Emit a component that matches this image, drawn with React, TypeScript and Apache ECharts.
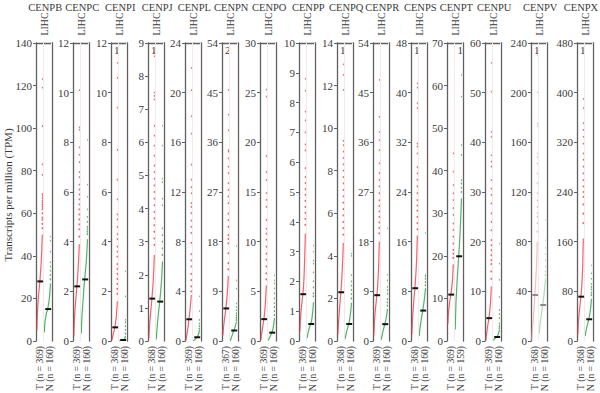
import React, { useEffect, useRef } from "react";
import * as echarts from "echarts";

const genes = ["CENPB", "CENPC", "CENPI", "CENPJ", "CENPL", "CENPN", "CENPO", "CENPP", "CENPQ", "CENPR", "CENPS", "CENPT", "CENPU", "CENPV", "CENPX"];
const yMax = [140, 12, 12, 9, 24, 54, 30, 10, 14, 54, 48, 70, 60, 240, 480];
const yStep = [20, 2, 2, 1, 4, 9, 5, 1, 2, 9, 8, 10, 10, 40, 80];
const nT = [369, 369, 368, 368, 369, 367, 369, 369, 368, 369, 368, 369, 369, 368, 368];
const nN = [160, 160, 160, 160, 160, 160, 160, 160, 160, 160, 160, 159, 160, 160, 160];
const aboveT = [0, 0, 1, 1, 0, 2, 0, 0, 1, 0, 1, 0, 0, 1, 1];
const aboveN = [0, 0, 0, 0, 0, 0, 0, 0, 0, 0, 0, 1, 0, 0, 0];
const faded = [false, false, false, false, false, false, false, false, false, false, false, false, false, true, false];

const medT = [28, 2.2, 0.55, 1.28, 1.75, 5.9, 2.2, 1.57, 2.29, 8.3, 8.5, 10.9, 4.6, 37, 71.4];
const medN = [15, 2.48, 0.04, 1.19, 0.3, 1.9, 0.84, 0.57, 0.8, 3.05, 4.9, 19.9, 0.8, 29, 35];

// dense part of sorted tumour values (ranks 0%..90%)
const bodyT = [
  [5, 13, 18, 22, 25, 28, 32, 36, 42, 50],
  [0.2, 0.9, 1.3, 1.6, 1.9, 2.2, 2.5, 2.9, 3.3, 3.9],
  [0.04, 0.15, 0.25, 0.35, 0.45, 0.55, 0.7, 0.9, 1.2, 1.6],
  [0.08, 0.4, 0.65, 0.85, 1.05, 1.28, 1.5, 1.75, 2.1, 2.6],
  [0.02, 0.3, 0.6, 0.9, 1.3, 1.75, 2.1, 2.6, 3.1, 3.7],
  [1.0, 2.3, 3.3, 4.2, 5.0, 5.9, 7.0, 8.2, 9.7, 11.8],
  [0.1, 0.6, 1.0, 1.4, 1.8, 2.2, 2.7, 3.4, 4.3, 5.6],
  [0.3, 0.7, 1.0, 1.2, 1.4, 1.57, 1.8, 2.2, 2.8, 3.6],
  [0.3, 0.8, 1.2, 1.6, 1.95, 2.3, 2.7, 3.2, 3.8, 4.6],
  [1.0, 3.5, 5.0, 6.2, 7.2, 8.3, 9.6, 11.4, 14.0, 18.0],
  [1.0, 3.3, 4.8, 6.2, 7.4, 8.5, 9.8, 11.4, 13.5, 17.0],
  [4.0, 6.5, 8.0, 9.2, 10.1, 11.0, 12.0, 13.3, 15.0, 18.0],
  [0.1, 1.2, 2.2, 3.0, 3.8, 4.6, 5.5, 6.7, 8.3, 11.0],
  [1, 10, 16, 22, 29, 37, 45, 54, 64, 80],
  [10, 32, 43, 52, 62, 71, 82, 97, 120, 165],
];
// sparse upper tumour values (ranks 90%..100%)
const topT = [
  [53, 55, 57, 58, 60, 62, 63, 64, 65, 66, 67, 68, 69, 78, 83, 101, 119, 123],
  [4.2, 4.5, 4.7, 4.9, 5.1, 5.3, 5.5, 5.7, 5.9, 6.1, 6.3, 6.6, 6.8, 7.2, 7.5, 7.8, 8.5, 8.6, 10.1],
  [1.9, 2.1, 2.3, 2.5, 2.7, 2.9, 3.1, 3.4, 3.6, 3.8, 4.1, 4.3, 4.6, 4.9, 5.1, 5.7, 6.5, 7.7, 9.4, 10.6, 11.2],
  [2.9, 3.1, 3.3, 3.5, 3.7, 3.9, 4.1, 4.3, 4.5, 4.7, 4.9, 5.1, 5.3, 5.6, 5.9, 6.2, 6.5, 7.3, 7.4, 7.5, 8.6, 8.7],
  [4.0, 4.4, 4.9, 5.4, 6.0, 6.5, 7.0, 7.9, 8.7, 9.2, 9.7, 10.3, 10.8, 11.1, 11.9, 12.4, 13.0, 14.2, 16.7, 18.1, 20.2, 22.0],
  [13.0, 14.1, 15.9, 17.7, 18.5, 19.2, 20.7, 21.9, 23.1, 25.0, 26.2, 27.4, 28.6, 30.4, 31.6, 33.1, 34.3, 34.6, 38.2, 41.0, 45.5],
  [6.2, 6.8, 7.5, 8.2, 8.8, 9.5, 10.2, 10.8, 11.3, 12.2, 13.5, 14.2, 14.9, 16.2, 17.0, 18.6, 24.6, 25.3],
  [3.9, 4.1, 4.3, 4.5, 4.7, 4.9, 5.1, 5.3, 5.5, 5.8, 6.4, 6.6, 7.0, 7.4, 7.7, 8.4, 8.8],
  [5.0, 5.3, 5.6, 5.9, 6.2, 6.5, 6.8, 7.1, 7.4, 7.7, 8.0, 8.3, 8.6, 8.9, 9.2, 9.4, 11.8, 12.5, 13.0],
  [19.5, 20.5, 21.5, 22.5, 23.5, 24.5, 25.5, 26.8, 28.0, 29.2, 30.4, 32.2, 34.6, 36.4, 37.9, 40.6, 47.3],
  [18.0, 19.0, 20.0, 21.0, 21.8, 22.7, 23.8, 24.9, 26.0, 27.0, 28.0, 30.2, 31.3, 31.8, 37.5, 38.3, 40.8, 41.5],
  [19.5, 20.5, 21.4, 22.9, 24.5, 26.1, 27.6, 29.6, 31.2, 33.1, 34.7, 36.6, 39.8, 44.1],
  [12.5, 14.0, 15.5, 16.3, 17.3, 18.3, 19.3, 20.3, 22.3, 24.0, 25.7, 27.7, 29.4, 30.7, 32.4, 35.1, 36.1, 37.4, 41.1, 42.1, 50.2, 56.0],
  [88, 95, 100, 103, 108, 113, 119, 127, 135, 143, 148, 151, 173, 175, 200, 230],
  [190, 205, 220, 232, 240, 249, 259, 270, 281, 292, 302, 318, 329, 340, 351, 375, 390],
];
const bodyN = [
  [4, 9, 11, 13, 14, 15, 17, 19, 22, 27],
  [0.3, 1.0, 1.4, 1.8, 2.2, 2.5, 2.8, 3.1, 3.5, 4.1],
  [0, 0.01, 0.02, 0.03, 0.03, 0.04, 0.05, 0.07, 0.1, 0.2],
  [0.05, 0.35, 0.6, 0.8, 1.0, 1.2, 1.4, 1.65, 1.95, 2.4],
  [0.0, 0.05, 0.1, 0.15, 0.2, 0.3, 0.35, 0.45, 0.6, 0.9],
  [0.0, 0.4, 0.8, 1.1, 1.5, 1.9, 2.2, 2.6, 3.0, 3.5],
  [0.05, 0.2, 0.35, 0.5, 0.65, 0.84, 1.0, 1.3, 1.7, 2.3],
  [0.1, 0.25, 0.35, 0.45, 0.5, 0.57, 0.65, 0.8, 1.0, 1.3],
  [0.1, 0.3, 0.45, 0.55, 0.7, 0.8, 0.95, 1.15, 1.4, 1.8],
  [0.2, 0.9, 1.5, 2.0, 2.5, 3.0, 3.5, 4.1, 4.8, 5.8],
  [0.8, 2.0, 2.8, 3.5, 4.2, 4.9, 5.6, 6.4, 7.3, 8.5],
  [2.7, 9.0, 12.0, 15.0, 17.5, 20.0, 22.5, 25.5, 29.0, 33.5],
  [0.1, 0.3, 0.45, 0.6, 0.7, 0.8, 1.0, 1.3, 1.7, 2.3],
  [6, 13, 17, 21, 25, 29, 33, 38, 43, 50],
  [8, 16, 21, 25, 30, 35, 40, 46, 55, 68],
];
const topN = [
  [29, 31, 33, 35, 37, 42, 47, 49],
  [4.3, 4.4, 4.5, 4.6, 4.8, 5.0, 5.3, 5.8, 6.3, 8.1],
  [0.3, 0.45, 0.6, 0.75, 0.85, 1.8, 2.8],
  [2.6, 2.8, 3.0, 3.2, 3.4, 4.1, 4.3, 4.8, 4.9, 5.9, 6.5],
  [1.0, 1.2, 1.4, 1.7, 2.4, 3.6],
  [3.8, 4.2, 4.6, 5.0, 5.6, 6.2, 6.8, 9.5, 11.0, 17.2],
  [2.6, 3.0, 3.4, 3.8, 4.3, 4.8, 5.3, 5.8, 6.1, 6.6],
  [1.5, 1.6, 1.8, 2.0, 2.3, 2.6, 2.7, 3.0, 3.2],
  [2.0, 2.2, 2.4, 2.6, 2.8, 3.1, 4.0, 4.1],
  [6.4, 7.0, 7.6, 8.6, 9.2, 9.8, 11.0, 12.0, 20.4],
  [9.0, 9.5, 10.0, 10.4, 10.6, 17.4],
  [35.0, 36.0, 37.0, 37.8, 43.7, 46.0, 57.4, 62.5],
  [2.6, 3.0, 3.5, 4.6, 5.4, 6.2, 8.9, 12.3, 15.6, 19.6],
  [53, 56, 60, 65, 70, 75, 81, 97.5],
  [74, 78, 83, 87, 92, 100, 109, 122],
];

const lefts = [36, 73, 111, 148, 185, 222, 260, 299, 337, 373, 411, 447, 485, 531, 577];
const BOX_W = 16.5;
const TOP = 43;
const H = 298;
const FONT = "Liberation Serif";
const BOX = "#606060";
const TXT = "#3a3a3a";

function App() {
  const ref = useRef<HTMLDivElement>(null);
  useEffect(() => {
    if (!ref.current) return;
    const chart = echarts.init(ref.current, undefined, { renderer: "svg" });
    const grid: any[] = [];
    const xAxis: any[] = [];
    const yAxis: any[] = [];
    const series: any[] = [];
    const graphic: any[] = [];

    genes.forEach((g, i) => {
      const left = lefts[i];
      grid.push({ left, top: TOP, width: BOX_W, height: H });
      xAxis.push({
        type: "value", gridIndex: i, min: 0, max: 2, position: "top",
        axisLine: { show: true, onZero: false, lineStyle: { color: BOX, width: 1.3 } },
        axisTick: { show: false }, axisLabel: { show: false }, splitLine: { show: false },
      });
      yAxis.push({
        type: "value", gridIndex: i, min: 0, max: yMax[i], interval: yStep[i], position: "left",
        axisLine: { show: true, onZero: false, lineStyle: { color: BOX, width: 1.3 } },
        axisTick: { show: true, length: 3, lineStyle: { color: BOX, width: 1 } },
        axisLabel: { fontSize: 11, color: TXT, margin: 4, fontFamily: FONT },
        splitLine: { show: false },
      });
      yAxis.push({
        type: "value", gridIndex: i, min: 0, max: yMax[i], interval: yStep[i], position: "right",
        axisLine: { show: true, onZero: false, lineStyle: { color: BOX, width: 1.3 } },
        axisTick: { show: false }, axisLabel: { show: false }, splitLine: { show: false },
      });
      const cT = faded[i] ? "#f6a9b0" : "#ee3a48";
      const cN = faded[i] ? "#94d6a4" : "#22a043";
      const cM = faded[i] ? "#8a8a8a" : "#111";
      const yi = i * 2;
      const mk = (body: number[], top: number[], x0: number, w: number, color: string) => {
        series.push({
          type: "line", xAxisIndex: i, yAxisIndex: yi, showSymbol: false, symbol: "none",
          lineStyle: { color, width: 1.2, opacity: 0.8 }, z: 2,
          data: body.map((v, k) => [x0 + w * 0.9 * (k / (body.length - 1)), v]),
        });
        series.push({
          type: "scatter", xAxisIndex: i, yAxisIndex: yi, symbolSize: 2, z: 2,
          itemStyle: { color, opacity: 0.75 },
          data: top.map((v, k) => [x0 + w * (0.9 + 0.1 * (k + 1) / top.length), v]),
          markLine: {
            silent: true, symbol: "none", label: { show: false },
            lineStyle: { color: "#f4e8e8", width: 1, type: "solid" },
            data: [{ xAxis: x0 + w }],
          },
        });
      };
      mk(bodyT[i], topT[i], 0.1, 0.74, cT);
      mk(bodyN[i], topN[i], 1.0, 0.84, cN);
      series.push({
        type: "line", xAxisIndex: i, yAxisIndex: yi, symbol: "none", z: 5,
        lineStyle: { color: cM, width: 2 },
        data: [[0.16, medT[i]], [0.86, medT[i]]],
      });
      series.push({
        type: "line", xAxisIndex: i, yAxisIndex: yi, symbol: "none", z: 5,
        lineStyle: { color: cM, width: 2 },
        data: [[1.12, medN[i]], [1.84, medN[i]]],
      });

      const cx = left + BOX_W / 2;
      graphic.push({
        type: "text", x: Math.min(cx + 1, 581), y: 7,
        style: { text: g, fontSize: 10.5, fontFamily: FONT, fill: TXT, align: "center", verticalAlign: "middle" },
      });
      graphic.push({
        type: "text", x: cx, y: 24, rotation: Math.PI / 2,
        style: { text: "LIHC", fontSize: 9.8, fontFamily: FONT, fill: TXT, align: "center", verticalAlign: "middle" },
      });
      graphic.push({
        type: "text", x: left + 3.6, y: 346, rotation: Math.PI / 2,
        style: { text: `T (n = ${nT[i]})`, fontSize: 9.6, fontFamily: FONT, fill: TXT, align: "right", verticalAlign: "middle" },
      });
      graphic.push({
        type: "text", x: left + 13, y: 346, rotation: Math.PI / 2,
        style: { text: `N (n = ${nN[i]})`, fontSize: 9.6, fontFamily: FONT, fill: TXT, align: "right", verticalAlign: "middle" },
      });
      if (aboveT[i] > 0) {
        graphic.push({
          type: "text", x: left + 3, y: 50,
          style: { text: String(aboveT[i]), fontSize: 11, fontFamily: FONT, fill: TXT, align: "left", verticalAlign: "middle" },
        });
      }
      if (aboveN[i] > 0) {
        graphic.push({
          type: "text", x: left + 10.5, y: 50,
          style: { text: String(aboveN[i]), fontSize: 11, fontFamily: FONT, fill: TXT, align: "left", verticalAlign: "middle" },
        });
      }
    });

    graphic.push({
      type: "text", x: 8, y: 195, rotation: Math.PI / 2,
      style: { text: "Transcripts per million (TPM)", fontSize: 11, fontFamily: FONT, fill: TXT, align: "center", verticalAlign: "middle" },
    });

    chart.setOption({
      animation: false,
      backgroundColor: "#fff",
      grid, xAxis, yAxis, series, graphic,
    });
    return () => chart.dispose();
  }, []);
  return <div ref={ref} style={{ width: 600, height: 393, position: "absolute", left: 0, top: 0 }} />;
}

export default App;
